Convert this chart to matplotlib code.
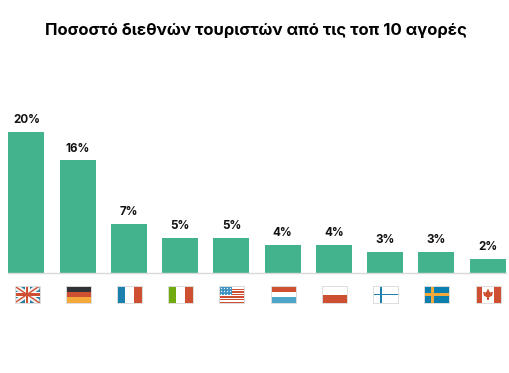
import matplotlib
matplotlib.use("Agg")
import matplotlib.pyplot as plt
from matplotlib.patches import Rectangle, Polygon

title = "Ποσοστό διεθνών τουριστών από τις τοπ 10 αγορές"
countries = ["UK", "DE", "FR", "IT", "US", "LU", "PL", "FI", "SE", "CA"]
shares = [20, 16, 7, 5, 5, 4, 4, 3, 3, 2]
labels = ["20%", "16%", "7%", "5%", "5%", "4%", "4%", "3%", "3%", "2%"]

GREEN = "#43b38d"
RED = "#cf4f32"
BLUE = "#1b80ad"
W, H = 510, 373
FONT = "Inter"

fig = plt.figure(figsize=(W / 100, H / 100), dpi=100)
ax = fig.add_axes([8 / W, (H - 273) / H, 498 / W, 173 / H])
ax.set_xlim(-0.361, 9.361)
ax.set_ylim(0, 173 / 7.05)
ax.bar(range(len(shares)), shares, width=0.703, color=GREEN)
for i, (v, t) in enumerate(zip(shares, labels)):
    ax.annotate(t, (i, v), xytext=(0, 4), textcoords="offset points", ha="center", va="bottom",
                fontsize=8.4, fontweight="bold", family=FONT, color="#111111")
for s in ["top", "left", "right"]:
    ax.spines[s].set_visible(False)
ax.spines["bottom"].set_color("#d9d9d9")
ax.spines["bottom"].set_linewidth(1.0)
ax.set_xticks([])
ax.set_yticks([])
fig.text(255.5 / W, 1 - 30 / H, title, ha="center", va="center", fontsize=12,
         fontweight="bold", family=FONT, color="#000000")


def r(a, x, y, w, h, c):
    a.add_patch(Rectangle((x, y), w, h, color=c, lw=0))


def draw_flag(a, code):
    if code == "UK":
        r(a, 0, 0, 1, 1, "#2a7da0")
        for p in ([(0, .8), (0, 1), (.2, 1), (1, .2), (1, 0), (.8, 0)], [(0, .2), (0, 0), (.2, 0), (1, .8), (1, 1), (.8, 1)]):
            a.add_patch(Polygon(p, color="#f2f2f2", lw=0))
        a.plot([0, 1], [1, 0], color=RED, lw=1.0)
        a.plot([0, 1], [0, 1], color=RED, lw=1.0)
        r(a, .4, 0, .2, 1, "white"); r(a, 0, .36, 1, .28, "white")
        r(a, .45, 0, .1, 1, RED); r(a, 0, .43, 1, .14, RED)
    elif code == "DE":
        r(a, 0, .67, 1, .33, "#2f3337"); r(a, 0, .33, 1, .34, RED); r(a, 0, 0, 1, .33, "#f6a93b")
    elif code == "FR":
        r(a, 0, 0, .33, 1, BLUE); r(a, .67, 0, .33, 1, RED)
    elif code == "IT":
        r(a, 0, 0, .33, 1, "#72ab10"); r(a, .67, 0, .33, 1, RED)
    elif code == "US":
        for k in range(7):
            r(a, 0, k * 2 / 13, 1, 1 / 13, RED)
        r(a, 0, .46, .5, .54, "#3f93c4")
        for x in (.08, .2, .32, .44):
            for y in (.55, .72, .88):
                a.plot(x, y, "o", ms=0.9, color="white", mew=0)
    elif code == "LU":
        r(a, 0, .67, 1, .33, RED); r(a, 0, 0, 1, .33, "#4ba6c9")
    elif code == "PL":
        r(a, 0, 0, 1, .5, RED)
    elif code == "FI":
        r(a, .27, 0, .1, 1, BLUE); r(a, 0, .45, 1, .1, BLUE)
    elif code == "SE":
        r(a, 0, 0, 1, 1, "#0a7fae")
        r(a, .27, 0, .12, 1, "#f0a93a"); r(a, 0, .44, 1, .12, "#f0a93a")
    elif code == "CA":
        r(a, 0, 0, .25, 1, RED); r(a, .75, 0, .25, 1, RED)
        a.add_patch(Polygon([(.5, .85), (.58, .62), (.7, .65), (.66, .42), (.54, .34), (.54, .18),
                             (.46, .18), (.46, .34), (.34, .42), (.3, .65), (.42, .62)], color=RED, lw=0))
    for s in a.spines.values():
        s.set_color("#dddddd")
        s.set_linewidth(0.7)
    a.set_xlim(0, 1); a.set_ylim(0, 1)
    a.set_xticks([]); a.set_yticks([])


fw = 25 / 51.22
fy = (273 - 303) / 173
fh = 17 / 173
for i, code in enumerate(countries):
    a = ax.inset_axes([i + 0.01 - fw / 2, fy, fw, fh], transform=ax.get_xaxis_transform())
    draw_flag(a, code)

fig.savefig("out.png", dpi=100)
